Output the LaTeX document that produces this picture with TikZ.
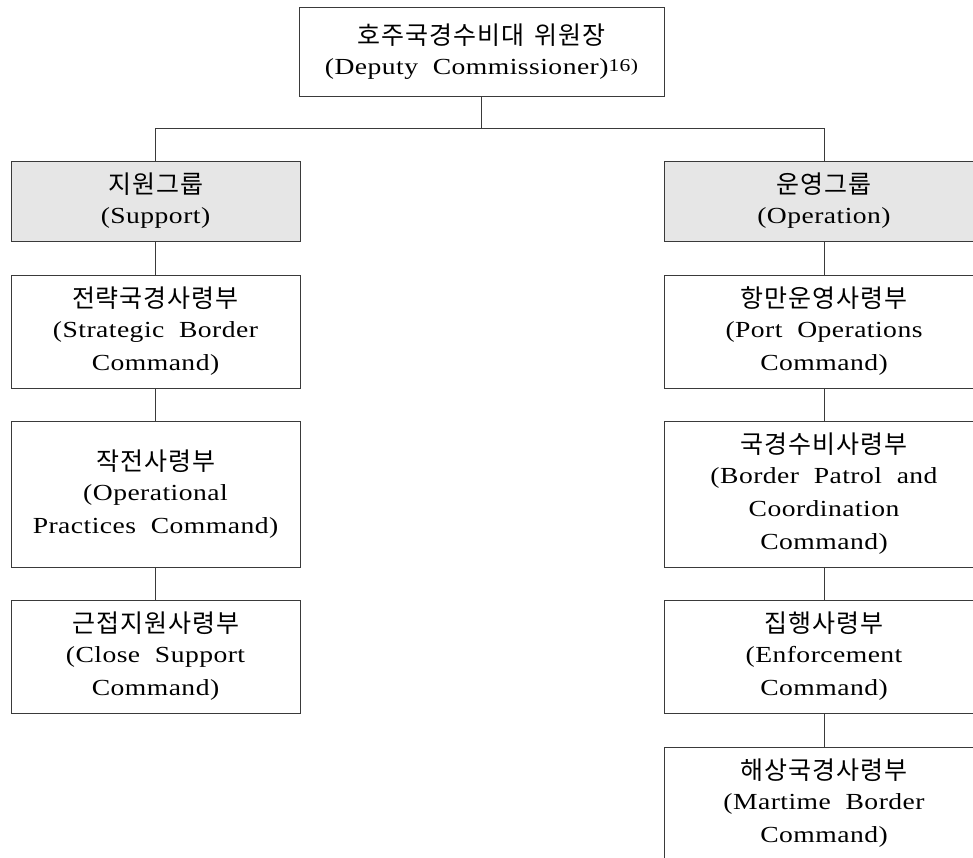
\documentclass[tikz,border=0pt]{standalone}
\usepackage{fontspec}
\setmainfont[FakeStretch=1.2, LetterSpace=2, WordSpace=2]{Liberation Serif}
\newfontfamily\krfont[LetterSpace=4, WordSpace=1.6]{Noto Sans CJK KR}
\newcommand\kr[1]{\raisebox{-3pt}{\krfont\fontsize{25}{33}\selectfont #1}}
\definecolor{linec}{HTML}{3A3A3A}
\definecolor{grayf}{HTML}{E6E6E6}
\newcommand\supnote[1]{\raisebox{2.5pt}{\fontsize{18}{18}\selectfont #1}}
\begin{document}
\begin{tikzpicture}[x=1pt,y=-1pt,
  box/.style={draw=linec, line width=1pt, rectangle, align=center, inner sep=0pt,
    font=\fontsize{23}{33}\selectfont},
  lbox/.style={box, minimum width=289pt},
  rbox/.style={box, minimum width=320pt},
  grp/.style={fill=grayf},
  conn/.style={draw=linec, line width=1pt}]
\useasboundingbox (0,0) rectangle (973,857);
\clip (0,0) rectangle (973,857);
\node[box, minimum width=365pt, minimum height=89pt] (top) at (481.5,51.5)
  {\kr{호주국경수비대 위원장}\\(Deputy Commissioner)\supnote{16)}};
\node[lbox, grp, minimum height=80pt] (lg) at (155.5,201) {\kr{지원그룹}\\(Support)};
\node[rbox, grp, minimum height=80pt] (rg) at (824,201) {\kr{운영그룹}\\(Operation)};
\node[lbox, minimum height=113pt] (l1) at (155.5,331.5) {\kr{전략국경사령부}\\(Strategic Border\\Command)};
\node[lbox, minimum height=146pt] (l2) at (155.5,494) {\kr{작전사령부}\\(Operational\\Practices Command)};
\node[lbox, minimum height=113pt] (l3) at (155.5,656.5) {\kr{근접지원사령부}\\(Close Support\\Command)};
\node[rbox, minimum height=113pt] (r1) at (824,331.5) {\kr{항만운영사령부}\\(Port Operations\\Command)};
\node[rbox, minimum height=146pt] (r2) at (824,494) {\kr{국경수비사령부}\\(Border Patrol and\\Coordination\\Command)};
\node[rbox, minimum height=113pt] (r3) at (824,656.5) {\kr{집행사령부}\\(Enforcement\\Command)};
\node[rbox, minimum height=113pt] (r4) at (824,803.5) {\kr{해상국경사령부}\\(Martime Border\\Command)};
\coordinate (jl) at (155.5,128);
\coordinate (jr) at (824,128);
\coordinate (jm) at (top.south |- jl);
\draw[conn] (top.south) -- (jm);
\draw[conn] (jl) -- (jr);
\draw[conn] (jl) -- (lg.north);
\draw[conn] (jr) -- (rg.north);
\draw[conn] (lg.south) -- (l1.north);
\draw[conn] (l1.south) -- (l2.north);
\draw[conn] (l2.south) -- (l3.north);
\draw[conn] (rg.south) -- (r1.north);
\draw[conn] (r1.south) -- (r2.north);
\draw[conn] (r2.south) -- (r3.north);
\draw[conn] (r3.south) -- (r4.north);
\end{tikzpicture}
\end{document}
